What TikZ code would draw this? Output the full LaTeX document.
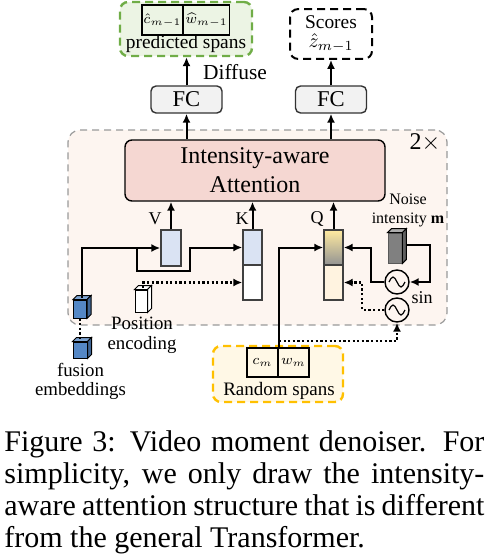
\documentclass[tikz,border=0pt]{standalone}
\usepackage{fontspec}
\setmainfont{Liberation Serif}
\usepackage{amsmath}
\usepackage{amssymb}
\usetikzlibrary{arrows.meta}
\usetikzlibrary{calc}

\definecolor{layerfill}{RGB}{253,245,240}
\definecolor{attfill}{RGB}{245,215,210}
\definecolor{fcfill}{RGB}{242,242,242}
\definecolor{predgreen}{RGB}{112,173,71}
\definecolor{predfill}{RGB}{236,244,228}
\definecolor{randgold}{RGB}{255,192,0}
\definecolor{randfill}{RGB}{255,248,230}
\definecolor{keyblue}{RGB}{218,227,243}
\definecolor{qtop}{RGB}{255,234,160}
\definecolor{qbot}{RGB}{255,243,224}
\definecolor{fusblue}{RGB}{84,135,197}

\begin{document}
\begin{tikzpicture}[x=0.5pt, y=-0.5pt, >={Latex[length=4.5pt,width=4pt]},
  line/.style={line width=1pt},
  dotline/.style={line width=1.1pt, dash pattern=on 1.1pt off 1.2pt},
  lab/.style={inner sep=0, font=\fontsize{9}{10}\selectfont},
  vecbox/.style={draw=black!75, line width=0.7pt, inner sep=0},
  spanbox/.style={draw, line width=0.9pt, inner sep=0, font=\fontsize{7.3}{8}\selectfont},
  fcbox/.style={draw=black!80, fill=fcfill, line width=0.7pt, rounded corners=2.5pt,
    minimum width=35.5pt, minimum height=13.5pt, inner sep=0, font=\fontsize{11.3}{12}\selectfont},
  cubefront/.style={draw, line width=0.5pt, inner sep=0},
  sinnode/.style={circle, draw, line width=0.7pt, minimum size=12pt, inner sep=0,
    path picture={\draw[line width=0.6pt] ($(path picture bounding box.center)+(-8,0)$)
      sin ++(4,-5) cos ++(4,5) sin ++(4,5) cos ++(4,-5);}},
]
\useasboundingbox (0,0) rectangle (492,557);

% transformer layer
\node[draw=gray!80, fill=layerfill, line width=0.6pt, dash pattern=on 3.5pt off 2.5pt,
  rounded corners=6pt, minimum width=189.5pt, minimum height=97.5pt] (layer) at (257.5,227.5) {};
\node[font=\fontsize{12}{13}\selectfont, inner sep=0] (rep) at (425,143) {2$\times$};
\node[draw, fill=attfill, line width=0.7pt, rounded corners=3.5pt, minimum width=130pt,
  minimum height=30.5pt, align=center, font=\fontsize{12}{14.5}\selectfont] (att) at (255,170.5)
  {Intensity-aware\\Attention};

% outputs
\node[fcbox] (fc1) at (186.5,99.5) {FC};
\node[fcbox] (fc2) at (331,99.5) {FC};
\node[draw=predgreen, fill=predfill, line width=1.2pt, dash pattern=on 4pt off 2.5pt,
  rounded corners=4pt, minimum width=66pt, minimum height=27pt] (pred) at (186,29) {};
\node[spanbox, minimum width=20.5pt, minimum height=15pt] (chat) at (162.5,20) {$\hat{c}_{m-1}$};
\node[spanbox, minimum width=23pt, minimum height=15pt] (what) at (206.5,20) {$\widehat{w}_{m-1}$};
\node[inner sep=0, font=\fontsize{9.7}{10}\selectfont] (predlab) at (186,44) {predicted spans};
\node[draw, line width=1pt, dash pattern=on 4pt off 2.5pt, rounded corners=4pt,
  minimum width=41pt, minimum height=21.5pt, align=center,
  font=\fontsize{9.7}{9.5}\selectfont] (scores) at (331,34) {Scores\\$\hat{z}_{m-1}$};
\node[inner sep=0, font=\fontsize{10.7}{11}\selectfont] (diffuse) at (235,72) {Diffuse};

% V, K, Q
\node[vecbox, fill=keyblue, minimum width=10pt, minimum height=18pt] (vbox) at (171,248) {};
\node[vecbox, fill=keyblue, minimum width=9.5pt, minimum height=17.5pt] (kt) at (252.5,247.5) {};
\node[vecbox, fill=white, minimum width=9.5pt, minimum height=17.5pt] (kb) at (252.5,282.5) {};
\node[vecbox, top color=qtop, middle color=qtop!70!gray, bottom color=gray!85,
  minimum width=9.5pt, minimum height=17.5pt] (qt) at (333.5,247.5) {};
\node[vecbox, fill=qbot, minimum width=9.5pt, minimum height=17.5pt] (qb) at (333.5,282.5) {};
\node[lab] (vlab) at (155,219) {V};
\node[lab] (klab) at (242,219) {K};
\node[lab] (qlab) at (317,219) {Q};

% noise intensity
\node[draw=gray!70!black, fill=gray, line width=0.4pt, minimum width=7pt, minimum height=15pt,
  inner sep=0] (noise) at (395,248) {};
\node[align=center, inner sep=0, font=\fontsize{8}{9.5}\selectfont] (noiselab) at (408,210.5)
  {Noise\\intensity \textbf{m}};
\node[sinnode] (sin1) at (397,282) {};
\node[sinnode] (sin2) at (397,310) {};
\node[inner sep=0, font=\fontsize{9}{10}\selectfont] (sinlab) at (422,298) {sin};

% inputs
\node[cubefront, fill=fusblue, minimum width=6.5pt, minimum height=9pt] (fus1) at (80,309) {};
\node[cubefront, fill=fusblue, minimum width=7pt, minimum height=8pt] (fus2) at (80,350) {};
\node[align=center, inner sep=0, font=\fontsize{9.4}{9.2}\selectfont] (fuslab) at (80.5,381.5)
  {fusion\\embeddings};
\node[cubefront, fill=white, minimum width=6pt, minimum height=11pt] (pos) at (141,301) {};
\node[align=center, inner sep=0, font=\fontsize{9.4}{10}\selectfont] (poslab) at (142,335.5)
  {Position\\encoding};
\node[draw=randgold, fill=randfill, line width=1.2pt, dash pattern=on 4pt off 2.5pt,
  rounded corners=4pt, minimum width=65pt, minimum height=28pt] (rand) at (278,374) {};
\node[spanbox, minimum width=15.5pt, minimum height=14.5pt] (cm) at (262.5,362.5) {$c_m$};
\node[spanbox, minimum width=15.5pt, minimum height=14.5pt] (wm) at (293.5,362.5) {$w_m$};
\node[inner sep=0, font=\fontsize{9.5}{10}\selectfont] (randlab) at (279,391) {Random spans};

\foreach \c/\t/\s in {fus1/fusblue!75!white/fusblue!75!black, fus2/fusblue!75!white/fusblue!75!black,
  pos/white/white, noise/gray!65/gray!75!black}{
  \draw[line width=0.5pt, fill=\t] (\c.north west) -- ++(4,-4) -- ($(\c.north east)+(4,-4)$)
    -- (\c.north east) -- cycle;
  \draw[line width=0.5pt, fill=\s] (\c.north east) -- ++(4,-4) -- ($(\c.south east)+(4,-4)$)
    -- (\c.south east) -- cycle;
}

% connectors
\coordinate (split) at (137,248);
\coordinate (rs) at (cm.north east);
\draw[line,->] ($(fus1.north)+(2,-2)$) |- (vbox.west);
\draw[line,->] (split) -- ++(0,23) -- ++(53,0) |- (kt.west);
\draw[dotline] (fus1.south) -- (fus2.north);
\draw[dotline,->] ($(pos.north)+(2,-2)$) |- (kb.west);
\draw[line,->] (rs) |- (qt.west);
\draw[dotline,->] ($(rs)+(0,-6)$) -| (sin2.south);
\draw[dotline,->] (sin2.west) -- ++(-22,0) |- (qb.east);
\draw[line,->] (sin1.west) -- ++(-13,0) |- (qt.east);
\draw[line,->] ($(noise.east)+(4,-3)$) -- ++(24,0) |- (sin1.east);
\draw[line,->] (vbox.north) -- (vbox.north |- att.south);
\draw[line,->] (kt.north) -- (kt.north |- att.south);
\draw[line,->] (qt.north) -- (qt.north |- att.south);
\draw[line,->] (att.north -| fc1.south) -- (fc1.south);
\draw[line,->] (att.north -| fc2.south) -- (fc2.south);
\draw[line,->] (fc1.north) -- (fc1.north |- pred.south);
\draw[line,->] (fc2.north) -- (fc2.north |- scores.south);

% caption
\node[anchor=north west, text width=240pt, align=justify, inner sep=0,
  font=\fontsize{15}{16}\selectfont] (caption) at (4,430)
  {\noindent Figure 3: Video moment denoiser. For\linebreak simplicity, we only draw the intensity-\linebreak
  aware attention structure that is different\linebreak from the general Transformer.};
\end{tikzpicture}
\end{document}
